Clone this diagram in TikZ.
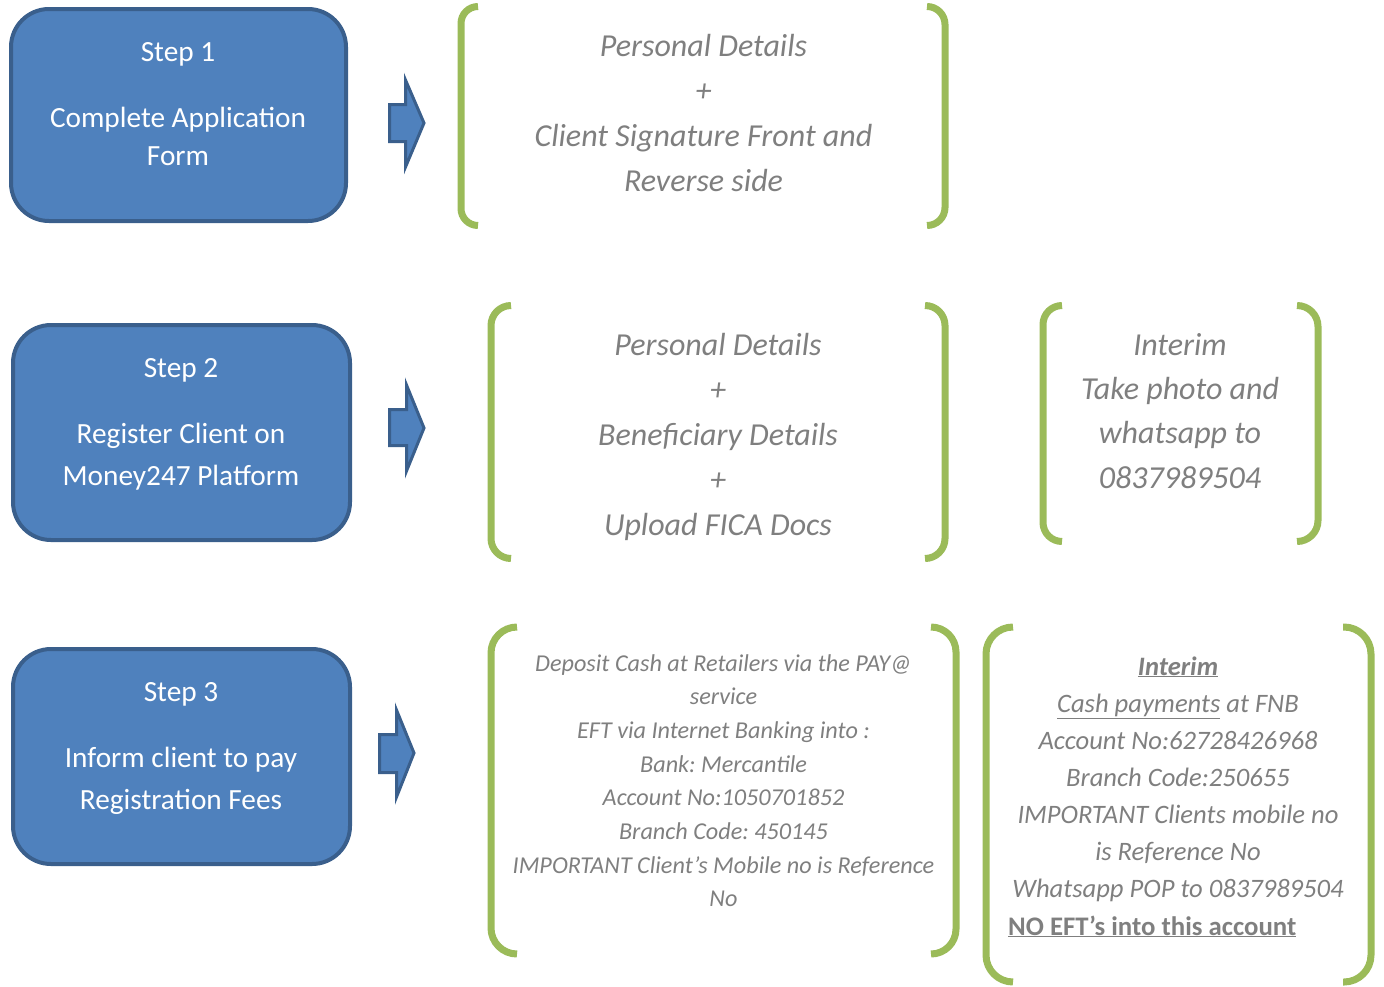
\documentclass[tikz,border=0pt]{standalone}
\usepackage{fontspec}
\setmainfont{Carlito}
\frenchspacing
\definecolor{boxfill}{HTML}{4F81BD}
\definecolor{boxline}{HTML}{3A5F8C}
\definecolor{brk}{HTML}{9BBB59}
\definecolor{txtgray}{HTML}{7F7F7F}
\newcommand\txtblock[1]{\begin{tabular}[t]{@{}c@{}}#1\end{tabular}}
\tikzset{
  stepbox/.style={draw=boxline, fill=boxfill, line width=4pt, rounded corners=38pt, inner sep=0pt},
  steptext/.style={anchor=base, inner sep=0pt, text=white, font=\fontsize{29.3}{42}\selectfont},
  blockarrow/.style={draw=boxline, fill=boxfill, line width=3pt, line join=miter},
  bracketline/.style={draw=brk, line width=7pt},
  graytext/.style={anchor=base, inner sep=0pt, text=txtgray},
}
\begin{document}
\begin{tikzpicture}[x=1pt, y=-1pt]
\useasboundingbox (0,0) rectangle (1384,986);

% step boxes
\node[stepbox, minimum width=335pt, minimum height=212pt] (s1) at (178.5,115) {};
\node[stepbox, minimum width=337pt, minimum height=215pt] (s2) at (181.5,432.5) {};
\node[stepbox, minimum width=337pt, minimum height=215pt] (s3) at (181.5,756.5) {};

\node[steptext, font=\fontsize{29.3}{38}\selectfont] (s1t) at (178,61) {\txtblock{Step 1\\[28pt]Complete Application\\Form}};
\node[steptext] (s2t) at (181,377) {\txtblock{Step 2\\[24pt]Register Client on\\Money247 Platform}};
\node[steptext] (s3t) at (181,701) {\txtblock{Step 3\\[24pt]Inform client to pay\\Registration Fees}};

% block arrows
\draw[blockarrow] (389.5,104.5) -- (405.5,104.5) -- (405.5,80) -- (424,123) -- (405.5,167) -- (405.5,141.5) -- (389.5,141.5) -- cycle;
\draw[blockarrow] (389.5,409.5) -- (406.5,409.5) -- (406.5,385) -- (424,428) -- (406.5,471) -- (406.5,445.5) -- (389.5,445.5) -- cycle;
\draw[blockarrow] (379.5,734.5) -- (396.5,734.5) -- (396.5,710) -- (414,753) -- (396.5,797) -- (396.5,772.5) -- (379.5,772.5) -- cycle;

% brackets row 1
\draw[bracketline, rounded corners=17pt] (478,6.5) -- (461,6.5) -- (461,225.5) -- (478,225.5);
\draw[bracketline, rounded corners=18pt] (927,6.5) -- (945,6.5) -- (945,225.5) -- (927,225.5);
% brackets row 2
\draw[bracketline, rounded corners=20pt] (511,305.5) -- (491,305.5) -- (491,558.5) -- (511,558.5);
\draw[bracketline, rounded corners=20pt] (925,305.5) -- (945,305.5) -- (945,558.5) -- (925,558.5);
\draw[bracketline, rounded corners=19pt] (1062,305.5) -- (1043,305.5) -- (1043,541.5) -- (1062,541.5);
\draw[bracketline, rounded corners=21pt] (1297,305.5) -- (1318,305.5) -- (1318,541.5) -- (1297,541.5);
% brackets row 3
\draw[bracketline, rounded corners=26pt] (517,627) -- (491,627) -- (491,954) -- (517,954);
\draw[bracketline, rounded corners=25pt] (931,627) -- (956,627) -- (956,954) -- (931,954);
\draw[bracketline, rounded corners=27pt] (1013,627) -- (986,627) -- (986,982) -- (1013,982);
\draw[bracketline, rounded corners=27pt] (1343,627) -- (1371,627) -- (1371,982) -- (1343,982);

% bracket texts
\node[graytext, font=\fontsize{32}{45.3}\selectfont\itshape] (b1) at (703.5,56)
  {\txtblock{Personal Details\\+\\Client Signature Front and\\Reverse side}};
\node[graytext, font=\fontsize{32}{45}\selectfont\itshape] (b2) at (718,355)
  {\txtblock{Personal Details\\+\\Beneficiary Details\\+\\Upload FICA Docs}};
\node[graytext, font=\fontsize{32}{44.4}\selectfont\itshape] (b2b) at (1180,355)
  {\txtblock{Interim\\Take photo and\\whatsapp to\\0837989504}};
\node[graytext, font=\fontsize{24.2}{33.7}\selectfont\itshape] (b3) at (723.5,671)
  {\txtblock{Deposit Cash at Retailers via the PAY@\\service\\EFT via Internet Banking into :\\Bank: Mercantile\\Account No:1050701852\\Branch Code: 450145\\IMPORTANT Client’s Mobile no is Reference\\No}};
\node[graytext, font=\fontsize{26.6}{37.1}\selectfont\itshape] (b3b) at (1178,675)
  {\txtblock{\textbf{\underline{Interim}}\\\underline{Cash payments} at FNB\\Account No:62728426968\\Branch Code:250655\\IMPORTANT Clients mobile no\\is Reference No\\Whatsapp POP to 0837989504}};
\node[graytext, anchor=base west, font=\fontsize{26.8}{37.1}\selectfont\bfseries] (b3c) at (1008,935)
  {\underline{NO EFT’s into this account}};
\end{tikzpicture}
\end{document}
